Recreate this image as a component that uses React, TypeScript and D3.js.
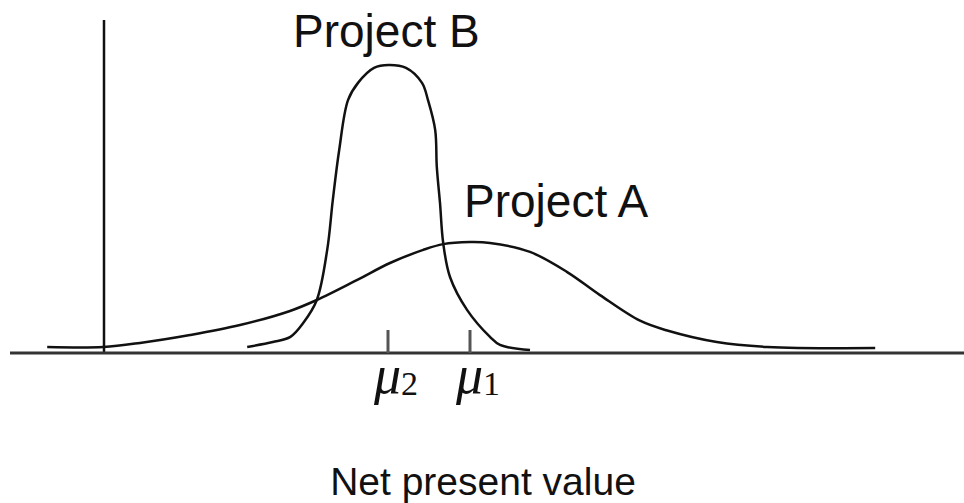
import React from "react";
import * as d3 from "d3";

// Net present value (arbitrary units) and probability density for each project
const projectBX = [17.9, 21.1, 23.3, 24.9, 26.6, 27.9, 28.6, 29.4, 30.5, 31.75, 33.75, 35.6, 37.75, 39.75, 40.5, 41.4, 41.6, 42.0, 42.4, 43.25, 45.4, 48.25, 49.5, 53.25];
const projectBY = [0.021, 0.038, 0.056, 0.104, 0.184, 0.358, 0.531, 0.705, 0.878, 0.938, 0.99, 1.0, 0.99, 0.938, 0.878, 0.774, 0.646, 0.521, 0.382, 0.264, 0.149, 0.056, 0.028, 0.01];

const projectAX = [-7.1, -0.1, 4.5, 10.75, 17.0, 23.25, 26.6, 31.6, 35.75, 39.9, 42.4, 45.75, 48.25, 53.25, 57.9, 62.0, 67.0, 70.4, 76.6, 82.9, 96.4];
const projectAY = [0.021, 0.021, 0.035, 0.0625, 0.097, 0.146, 0.184, 0.253, 0.3125, 0.358, 0.378, 0.385, 0.382, 0.351, 0.281, 0.201, 0.112, 0.078, 0.038, 0.021, 0.017];

// Means of the two distributions
const meanValues = [35.5, 45.75];
const meanLabels = ["2", "1"];

const curveLabels = ["Project B", "Project A"];
const axisTitle = "Net present value";

const W = 964;
const H = 503;

export default function App() {
  const x = d3.scaleLinear().domain([-11.75, 107.5]).range([10, 964]);
  const y = d3.scaleLinear().domain([0, 1]).range([353, 65]);

  const line = d3
    .line<[number, number]>()
    .x((d) => x(d[0]))
    .y((d) => y(d[1]))
    .curve(d3.curveCatmullRom.alpha(0.5));

  const bPts = projectBX.map((v, i) => [v, projectBY[i]] as [number, number]);
  const aPts = projectAX.map((v, i) => [v, projectAY[i]] as [number, number]);

  const sans = "'Liberation Sans', Arial, Helvetica, sans-serif";
  const serif = "'Liberation Serif', 'Times New Roman', serif";

  return (
    <svg
      width={W}
      height={H}
      viewBox={`0 0 ${W} ${H}`}
      style={{ position: "absolute", left: 0, top: 0, background: "#fff" }}
    >
      {/* vertical axis at zero NPV */}
      <line x1={x(0)} x2={x(0)} y1={20} y2={y(0)} stroke="#111" strokeWidth={2.5} />
      {/* horizontal axis */}
      <line x1={x(-11.75)} x2={x(107.5)} y1={y(0)} y2={y(0)} stroke="#333" strokeWidth={3} />

      {/* tick marks at means */}
      {meanValues.map((m, i) => (
        <line key={`t${i}`} x1={x(m)} x2={x(m)} y1={y(0) - 23} y2={y(0)} stroke="#555" strokeWidth={3} />
      ))}

      <path d={line(aPts) || ""} fill="none" stroke="#111" strokeWidth={2.5} />
      <path d={line(bPts) || ""} fill="none" stroke="#111" strokeWidth={2.5} />

      {/* mean labels */}
      {meanValues.map((m, i) => (
        <text
          key={`m${i}`}
          x={x(m) - 14}
          y={393}
          fontFamily={serif}
          fontStyle="italic"
          fontSize={54}
          fill="#111"
        >
          μ
          <tspan fontStyle="normal" fontSize={34} dy={2}>
            {meanLabels[i]}
          </tspan>
        </text>
      ))}

      <text x={293} y={47} fontFamily={sans} fontSize={46} fill="#111">
        {curveLabels[0]}
      </text>
      <text x={464} y={217} fontFamily={sans} fontSize={46} fill="#111">
        {curveLabels[1]}
      </text>

      <text x={483} y={495} textAnchor="middle" fontFamily={sans} fontSize={39} fill="#111">
        {axisTitle}
      </text>
    </svg>
  );
}
